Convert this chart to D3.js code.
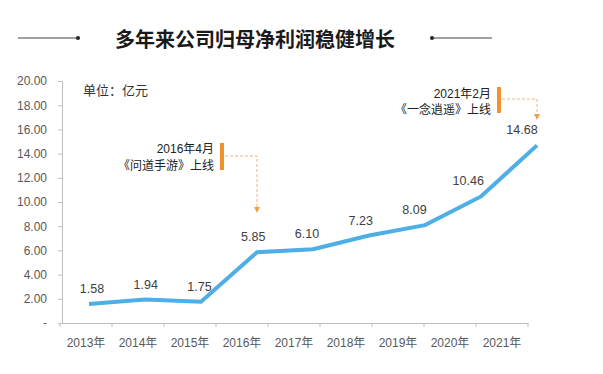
<!DOCTYPE html>
<html><head><meta charset="utf-8">
<script src="https://cdn.jsdelivr.net/npm/d3@7"></script>
<style>
html,body{margin:0;padding:0;background:#fff;}
text{font-family:"Liberation Sans","Noto Sans CJK SC",sans-serif;}
</style></head>
<body>
<svg id="chart" width="603" height="374"></svg>
<script>
const title = "多年来公司归母净利润稳健增长";
const unitLabel = "单位：亿元";
const categories = ["2013年","2014年","2015年","2016年","2017年","2018年","2019年","2020年","2021年"];
const values = [1.58,1.94,1.75,5.85,6.10,7.23,8.09,10.46,14.68];
const yTicks = [0,2,4,6,8,10,12,14,16,18,20];
const annotations = [
  {cat:"2016年", line1:"2016年4月", line2:"《问道手游》上线", value:5.85},
  {cat:"2021年", line1:"2021年2月", line2:"《一念逍遥》上线", value:14.68}
];

const svg = d3.select("#chart");
const W = 603, H = 374;
svg.append("rect").attr("width",W).attr("height",H).attr("fill","#fff");

// Title
const tcx = 255;
svg.append("text").attr("x",tcx).attr("y",47).attr("text-anchor","middle")
  .attr("font-size",20).attr("font-weight","bold").attr("fill","#1a1a1a")
  .style("font-family","'Noto Sans CJK SC',sans-serif").text(title);
svg.append("line").attr("x1",18).attr("x2",78).attr("y1",38).attr("y2",38).attr("stroke","#444").attr("stroke-width",1);
svg.append("circle").attr("cx",78).attr("cy",38).attr("r",2).attr("fill","#222");
svg.append("line").attr("x1",432).attr("x2",492).attr("y1",38).attr("y2",38).attr("stroke","#444").attr("stroke-width",1);
svg.append("circle").attr("cx",432).attr("cy",38).attr("r",2).attr("fill","#222");

// Scales
const y = d3.scaleLinear().domain([0,20]).range([323,81]);
const xAxisScale = d3.scaleBand().domain(categories).range([60,528]);
const xLine = d3.scalePoint().domain(categories).range([89,537]);
const xLabel = d3.scalePoint().domain(categories).range([92,522]);

// Y axis
const yAxis = d3.axisLeft(y).tickValues(yTicks).tickSize(4).tickPadding(11)
  .tickFormat(d => d===0 ? "-" : d3.format(".2f")(d));
const gy = svg.append("g").attr("transform","translate(62,0)").call(yAxis);
gy.select(".domain").attr("stroke","#bfbfbf");
gy.selectAll(".tick line").attr("stroke","#bfbfbf");
gy.selectAll(".tick text").attr("fill","#595959").attr("font-size",12)
  .style("font-family","'Liberation Sans',sans-serif");

// X axis
const xAxis = d3.axisBottom(xAxisScale).tickSizeInner(0).tickSizeOuter(0).tickPadding(15);
const gx = svg.append("g").attr("transform","translate(0,323)").call(xAxis);
gx.select(".domain").attr("stroke","#bfbfbf");
gx.selectAll(".tick text").attr("fill","#595959").attr("font-size",12);
// category boundary ticks
const bounds = categories.map(c => xAxisScale(c)).concat([xAxisScale.range()[1]]);
gx.selectAll(".bt").data(bounds).enter().append("line")
  .attr("x1",d=>d).attr("x2",d=>d).attr("y1",0).attr("y2",4).attr("stroke","#bfbfbf");

// Unit
svg.append("text").attr("x",83).attr("y",95).attr("font-size",13).attr("fill","#333")
  .style("font-family","'Noto Sans CJK SC',sans-serif").text(unitLabel);

// Line
const data = categories.map((c,i)=>({c, v: values[i]}));
const line = d3.line().x(d=>xLine(d.c)).y(d=>y(d.v));
svg.append("path").datum(data).attr("d",line).attr("fill","none")
  .attr("stroke","#4eaee6").attr("stroke-width",4).attr("stroke-linejoin","miter");

// Data labels
svg.selectAll(".dl").data(data).enter().append("text")
  .attr("x",d=>xLabel(d.c)).attr("y",d=>y(d.v)-11)
  .attr("text-anchor","middle").attr("font-size",12.5).attr("fill","#404040")
  .style("font-family","'Liberation Sans',sans-serif")
  .text(d=>d3.format(".2f")(d.v));

// Annotations
const annoPos = [
  {barX:220, barY1:143, barY2:170, textRight:214, t1y:153, t2y:170, hy:156, arrowY:210},
  {barX:497, barY1:87, barY2:113, textRight:491, t1y:98, t2y:114, hy:99, arrowY:117}
];
const defs = svg.append("defs");
defs.append("marker").attr("id","arr").attr("viewBox","0 0 10 10").attr("refX",5).attr("refY",5)
  .attr("markerWidth",6).attr("markerHeight",6).attr("orient","auto")
  .append("path").attr("d","M0,0 L10,5 L0,10 Z").attr("fill","#f0a04b");
annotations.forEach((a,i)=>{
  const p = annoPos[i];
  const ax = xLine(a.cat);
  svg.append("rect").attr("x",p.barX).attr("y",p.barY1).attr("width",4).attr("height",p.barY2-p.barY1).attr("fill","#f0922e");
  svg.append("text").attr("x",p.textRight).attr("y",p.t1y).attr("text-anchor","end").attr("font-size",12).attr("fill","#222").text(a.line1);
  svg.append("text").attr("x",p.textRight).attr("y",p.t2y).attr("text-anchor","end").attr("font-size",12).attr("fill","#222").text(a.line2);
  svg.append("path").attr("d",`M${p.barX+5},${p.hy} H${ax} V${p.arrowY}`)
    .attr("fill","none").attr("stroke","#f4b47a").attr("stroke-width",1).attr("stroke-dasharray","3,2")
    .attr("marker-end","url(#arr)");
});
</script>
</body></html>
